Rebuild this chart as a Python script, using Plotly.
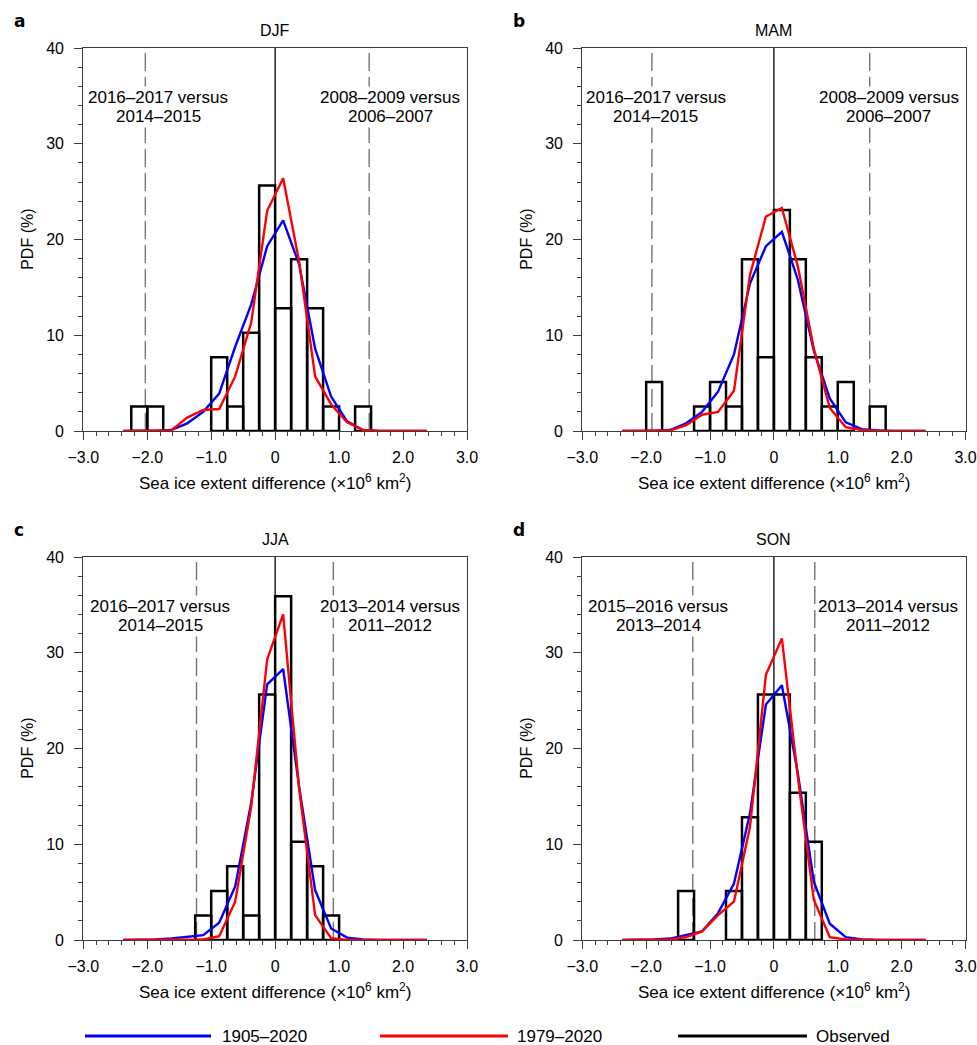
import plotly.graph_objects as go

FONT = "Liberation Sans, Arial, Helvetica, sans-serif"
W, H = 977, 1045

# Bin centres (x10^6 km^2) at which the model PDFs are evaluated
centres = [-2.375, -2.125, -1.875, -1.625, -1.375, -1.125, -0.875, -0.625, -0.375, -0.125,
           0.125, 0.375, 0.625, 0.875, 1.125, 1.375, 1.625, 1.875, 2.125, 2.375]
bin_width = 0.25

seasons = ["DJF", "MAM", "JJA", "SON"]
panel_letters = ["a", "b", "c", "d"]

# Model PDF (%), 1905-2020
pdf_1905_djf = [0, 0, 0, 0.1, 0.8, 2.0, 3.9, 8.8, 13.2, 19.3, 22.0, 17.4, 8.6, 3.6, 1.0, 0.1, 0, 0, 0, 0]
pdf_1905_mam = [0, 0, 0, 0.1, 0.8, 2.0, 4.1, 8.0, 15.4, 19.3, 20.8, 15.8, 8.4, 3.4, 0.9, 0.2, 0.05, 0, 0, 0]
pdf_1905_jja = [0, 0, 0.05, 0.15, 0.3, 0.5, 1.8, 5.6, 14.3, 26.7, 28.3, 16.0, 5.2, 1.2, 0.25, 0.05, 0, 0, 0, 0]
pdf_1905_son = [0, 0, 0.05, 0.15, 0.5, 0.9, 2.8, 5.9, 13.2, 24.6, 26.6, 17.4, 6.1, 1.7, 0.3, 0.05, 0, 0, 0, 0]

# Model PDF (%), 1979-2020
pdf_1979_djf = [0, 0, 0, 0.05, 1.4, 2.2, 2.3, 5.7, 11.3, 23.0, 26.4, 17.7, 5.7, 2.8, 0.9, 0.1, 0, 0, 0, 0]
pdf_1979_mam = [0, 0, 0, 0.05, 0.6, 1.7, 2.0, 4.2, 16.3, 22.4, 23.3, 17.2, 8.6, 2.4, 0.4, 0.1, 0, 0, 0, 0]
pdf_1979_jja = [0, 0, 0, 0, 0, 0.05, 0.4, 4.0, 13.9, 29.3, 34.0, 15.8, 2.6, 0.2, 0, 0, 0, 0, 0, 0]
pdf_1979_son = [0, 0, 0, 0.05, 0.3, 0.9, 2.6, 4.0, 11.8, 27.7, 31.5, 17.0, 4.2, 0.3, 0.05, 0, 0, 0, 0, 0]

# Observed histograms: left bin edges and frequency (%)
obs_edges_djf = [-2.25, -2.0, -1.0, -0.75, -0.5, -0.25, 0.0, 0.25, 0.5, 0.75, 1.25]
obs_pct_djf = [2.56, 2.56, 7.69, 2.56, 10.26, 25.64, 12.82, 17.95, 12.82, 2.56, 2.56]
obs_edges_mam = [-2.0, -1.25, -1.0, -0.75, -0.5, -0.25, 0.0, 0.25, 0.5, 0.75, 1.0, 1.5]
obs_pct_mam = [5.13, 2.56, 5.13, 2.56, 17.95, 7.69, 23.08, 17.95, 7.69, 2.56, 5.13, 2.56]
obs_edges_jja = [-1.25, -1.0, -0.75, -0.5, -0.25, 0.0, 0.25, 0.5, 0.75]
obs_pct_jja = [2.56, 5.13, 7.69, 2.56, 25.64, 35.90, 10.26, 7.69, 2.56]
obs_edges_son = [-1.5, -0.75, -0.5, -0.25, 0.0, 0.25, 0.5]
obs_pct_son = [5.13, 5.13, 12.82, 25.64, 25.64, 15.38, 10.26]

# Observed year-pair differences (dashed lines) and their labels
event_left = [-2.03, -1.91, -1.23, -1.27]
event_right = [1.47, 1.50, 0.91, 0.64]
label_left = [("2016–2017 versus", "2014–2015"), ("2016–2017 versus", "2014–2015"),
              ("2016–2017 versus", "2014–2015"), ("2015–2016 versus", "2013–2014")]
label_right = [("2008–2009 versus", "2006–2007"), ("2008–2009 versus", "2006–2007"),
               ("2013–2014 versus", "2011–2012"), ("2013–2014 versus", "2011–2012")]
label_left_x = [-1.83, -1.85, -1.80, -1.81]
label_right_x = [1.80, 1.80, 1.80, 1.78]

x_tickvals = [-3, -2, -1, 0, 1, 2, 3]
x_ticktext = ["−3.0", "−2.0", "−1.0", "0", "1.0", "2.0", "3.0"]
y_tickvals = [0, 10, 20, 30, 40]

series_1905 = [pdf_1905_djf, pdf_1905_mam, pdf_1905_jja, pdf_1905_son]
series_1979 = [pdf_1979_djf, pdf_1979_mam, pdf_1979_jja, pdf_1979_son]
obs_edges = [obs_edges_djf, obs_edges_mam, obs_edges_jja, obs_edges_son]
obs_pct = [obs_pct_djf, obs_pct_mam, obs_pct_jja, obs_pct_son]

BLUE = "#0000ff"
RED = "#ff0000"
AXIS = "#3c3c3c"

# panel frames in pixels: (left, right, top, bottom)
frames = [(83.3, 467.0, 48.0, 431.0), (582.3, 965.5, 48.0, 431.0),
          (83.3, 467.0, 557.0, 940.0), (582.3, 965.5, 557.0, 940.0)]


def px(x):
    return x / W


def py(y):
    return 1 - y / H


fig = go.Figure()
layout = dict(
    width=W, height=H, autosize=False,
    margin=dict(l=0, r=0, t=0, b=0, pad=0),
    paper_bgcolor="white", plot_bgcolor="white",
    showlegend=False,
    font=dict(family=FONT, size=16, color="black"),
)
shapes = []
annotations = []

for i in range(4):
    n = "" if i == 0 else str(i + 1)
    xa, ya = "x" + n, "y" + n
    left, right, top, bottom = frames[i]

    centres_obs = [e + bin_width / 2 for e in obs_edges[i]]
    fig.add_trace(go.Bar(
        x=centres_obs, y=obs_pct[i], width=bin_width,
        marker=dict(color="rgba(0,0,0,0)", line=dict(color="black", width=2.5)),
        xaxis=xa, yaxis=ya, name="Observed",
    ))
    fig.add_trace(go.Scatter(
        x=centres, y=series_1905[i], mode="lines",
        line=dict(color=BLUE, width=2.4), xaxis=xa, yaxis=ya, name="1905–2020",
    ))
    fig.add_trace(go.Scatter(
        x=centres, y=series_1979[i], mode="lines",
        line=dict(color=RED, width=2.4), xaxis=xa, yaxis=ya, name="1979–2020",
    ))

    layout["xaxis" + n] = dict(
        domain=[px(left), px(right)], anchor=ya, range=[-3, 3], automargin=False,
        showgrid=False, zeroline=False, showline=True, mirror=True,
        linecolor=AXIS, linewidth=1.3,
        tickmode="array", tickvals=x_tickvals, ticktext=x_ticktext,
        ticks="outside", ticklen=8, tickwidth=1.2, tickcolor=AXIS,
        tickfont=dict(size=16, family=FONT, color="black"),
        ticklabelstandoff=4,
        minor=dict(tickmode="linear", tick0=-3, dtick=0.2, ticks="outside",
                   ticklen=4, tickwidth=1, tickcolor=AXIS, showgrid=False),
    )
    layout["yaxis" + n] = dict(
        domain=[py(bottom), py(top)], anchor=xa, range=[0, 40], automargin=False,
        showgrid=False, zeroline=False, showline=True, mirror=True,
        linecolor=AXIS, linewidth=1.3,
        tickmode="array", tickvals=y_tickvals,
        ticks="outside", ticklen=8, tickwidth=1.2, tickcolor=AXIS,
        tickfont=dict(size=16, family=FONT, color="black"),
        ticklabelstandoff=7,
        minor=dict(tickmode="linear", tick0=0, dtick=2, ticks="outside",
                   ticklen=4, tickwidth=1, tickcolor=AXIS, showgrid=False),
    )

    # zero line and observed year-pair differences
    shapes.append(dict(type="line", xref=xa, yref=ya, x0=0, x1=0, y0=0, y1=40,
                       line=dict(color="black", width=1.3), layer="below"))
    for xv in (event_left[i], event_right[i]):
        shapes.append(dict(type="line", xref=xa, yref=ya, x0=xv, x1=xv, y0=0, y1=40,
                           line=dict(color="#737373", width=1.4, dash="18px,6px"),
                           layer="below"))

    # labels of the dashed lines
    for lx, lines in ((label_left_x[i], label_left[i]), (label_right_x[i], label_right[i])):
        for k, txt in enumerate(lines):
            annotations.append(dict(
                xref=xa, yref=ya, x=lx, y=34.8 - 1.93 * k, text=txt, showarrow=False,
                xanchor="center", yanchor="middle", bgcolor="white",
                font=dict(family=FONT, size=17, color="black"),
            ))

    cx = (left + right) / 2
    # season title
    annotations.append(dict(xref="paper", yref="paper", x=px(cx), y=py(top - 18),
                            text=seasons[i], showarrow=False, xanchor="center",
                            yanchor="middle", font=dict(family=FONT, size=16)))
    # panel letter
    annotations.append(dict(xref="paper", yref="paper", x=px(left - 71), y=py(top - 27),
                            text="<b>" + panel_letters[i] + "</b>", showarrow=False,
                            xanchor="left", yanchor="middle",
                            font=dict(family="DejaVu Sans, Arial, sans-serif", size=17)))
    # axis titles
    annotations.append(dict(xref="paper", yref="paper", x=px(cx), y=py(bottom + 51),
                            text="Sea ice extent difference (×10<sup>6</sup> km<sup>2</sup>)",
                            showarrow=False, xanchor="center", yanchor="middle",
                            font=dict(family=FONT, size=17)))
    annotations.append(dict(xref="paper", yref="paper", x=px(left - 56),
                            y=py((top + bottom) / 2), text="PDF (%)", textangle=-90,
                            showarrow=False, xanchor="center", yanchor="middle",
                            font=dict(family=FONT, size=16)))

# legend drawn along the bottom of the figure
legend_items = [("1905–2020", BLUE, 85, 211, 220), ("1979–2020", RED, 380, 508, 515),
                ("Observed", "black", 678, 807, 814)]
for label, colour, x0, x1, xt in legend_items:
    shapes.append(dict(type="line", xref="paper", yref="paper",
                       x0=px(x0), x1=px(x1), y0=py(1036), y1=py(1036),
                       line=dict(color=colour, width=3)))
    annotations.append(dict(xref="paper", yref="paper", x=px(xt), y=py(1036), text=label,
                            showarrow=False, xanchor="left", yanchor="middle",
                            font=dict(family=FONT, size=17)))

layout["shapes"] = shapes
layout["annotations"] = annotations
fig.update_layout(**layout)
fig.write_html("out.html")
